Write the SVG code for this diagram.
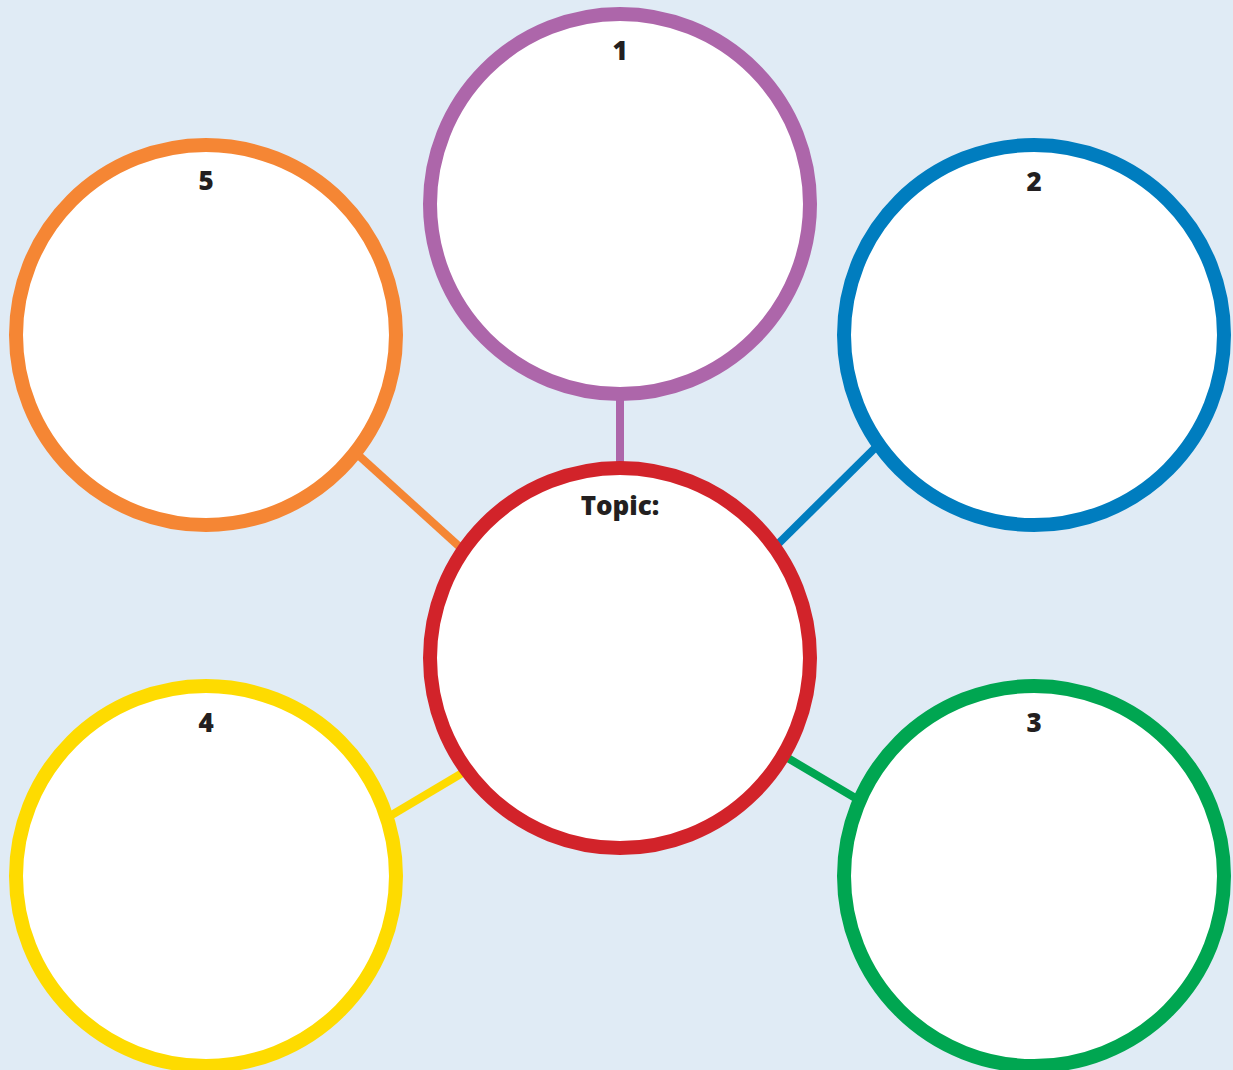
<svg xmlns="http://www.w3.org/2000/svg" width="1233" height="1070" viewBox="0 0 1233 1070">
<style>
.bg{fill:#E0EBF5}
.c{fill:#FFFFFF;stroke-width:14}
.l{stroke-width:8;fill:none;stroke-linecap:butt}
.t{font-family:"Open Sans","Lato",sans-serif;font-weight:800;fill:#231F20;text-anchor:middle}
.n{font-size:26px}
.tp{font-size:26px}
</style>
<rect class="bg" x="0" y="0" width="1233" height="1070"/>
<g id="connectors">
<line class="l" x1="620" y1="398" x2="620" y2="464" stroke="#AD66AA"/>
<line class="l" x1="878" y1="445" x2="776" y2="546" stroke="#007DBF"/>
<line class="l" x1="356" y1="453" x2="462" y2="549" stroke="#F58634"/>
<line class="l" x1="390" y1="816" x2="464" y2="772" stroke="#FEDB00"/>
<line class="l" x1="786" y1="757" x2="857" y2="799" stroke="#00A651"/>
</g>
<g id="node1">
<circle class="c" cx="620" cy="204" r="190" stroke="#AD66AA"/>
<text class="t n" x="620" y="60">1</text>
</g>
<g id="node2">
<circle class="c" cx="1034" cy="335" r="190" stroke="#007DBF"/>
<text class="t n" x="1034" y="191">2</text>
</g>
<g id="node3">
<circle class="c" cx="1034" cy="876" r="190" stroke="#00A651"/>
<text class="t n" x="1034" y="732">3</text>
</g>
<g id="node4">
<circle class="c" cx="206" cy="876" r="190" stroke="#FEDB00"/>
<text class="t n" x="206" y="732">4</text>
</g>
<g id="node5">
<circle class="c" cx="206" cy="335" r="190" stroke="#F58634"/>
<text class="t n" x="206" y="190">5</text>
</g>
<g id="topic">
<circle class="c" cx="620" cy="658" r="190" stroke="#D2232A"/>
<text class="t tp" x="620" y="515">Topic:</text>
</g>
</svg>
